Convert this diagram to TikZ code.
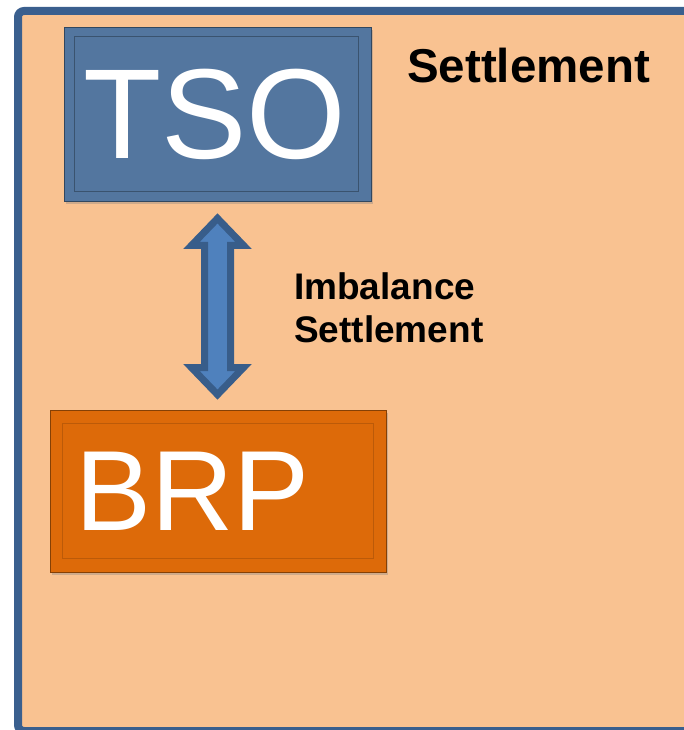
\documentclass[tikz,border=0pt]{standalone}
\usepackage{fontspec}
\setmainfont{Liberation Sans}
\usepackage{tikz}
\usetikzlibrary{arrows.meta, shadows, positioning, calc}

\definecolor{frameblue}{HTML}{3A5F8E}
\definecolor{peach}{HTML}{F9C291}
\definecolor{tsoblue}{HTML}{53769F}
\definecolor{brporange}{HTML}{DD6A09}
\definecolor{arrowblue}{HTML}{4F81BD}
\definecolor{arrowedge}{HTML}{385D8A}

\tikzset{
  actorbox/.style={draw=#1!60!black, line width=0.8pt, fill=#1, text=white,
    align=left, inner ysep=0pt,
    drop shadow={opacity=0.35, shadow xshift=2pt, shadow yshift=-3pt}},
  boldlabel/.style={font=\bfseries, inner sep=0pt, align=left},
  flowarrow/.style={fill=arrowblue, draw=arrowedge, line width=7pt, line join=miter}
}

\begin{document}
\begin{tikzpicture}[x=1pt, y=-1pt]
\useasboundingbox (0,0) rectangle (684,730);
\clip (0,0) rectangle (684,730);

% Outer Frame
\draw[line width=8pt, draw=frameblue, fill=peach, rounded corners=6pt]
  (18,11) rectangle (700,731);

% TSO
\node[actorbox=tsoblue, minimum width=307pt, minimum height=174pt,
  text width=269pt, inner xsep=19pt, font=\fontsize{128}{128}\selectfont]
  (tso) at (217.5,114) {TSO};
\draw[tsoblue!70!black, line width=0.6pt]
  ([xshift=11pt,yshift=-10pt]tso.north west) rectangle ([xshift=-13pt,yshift=10pt]tso.south east);

% BRP
\node[actorbox=brporange, minimum width=336pt, minimum height=162pt,
  text width=286pt, inner xsep=25pt, font=\fontsize{114}{114}\selectfont]
  (brp) at (218,491) {BRP};
\draw[brporange!85!black, line width=0.6pt]
  ([xshift=13pt,yshift=-14pt]brp.north west) rectangle ([xshift=-13pt,yshift=14pt]brp.south east);

% Imbalance Settlement arrow
\coordinate (flowtop) at ([yshift=-17pt]tso.south);
\coordinate (flowbot) at ([xshift=-0.5pt,yshift=15pt]brp.north);
\draw[flowarrow] (flowtop) -- ++(26,27) -- ++(-13,0)
  -- ($(flowbot)+(13,-27)$) -- ++(13,0) -- (flowbot) -- ++(-26,-27) -- ++(13,0)
  -- ($(flowtop)+(-13,27)$) -- ++(-13,0) -- cycle;

% Labels
\node[boldlabel, anchor=base west, font=\fontsize{47.5}{48}\selectfont\bfseries]
  (title) at (407,83) {Settlement};
\node[boldlabel, anchor=north west, font=\fontsize{37}{43}\selectfont\bfseries]
  (flowlabel) at (294,272) {Imbalance\\Settlement};
\end{tikzpicture}
\end{document}
